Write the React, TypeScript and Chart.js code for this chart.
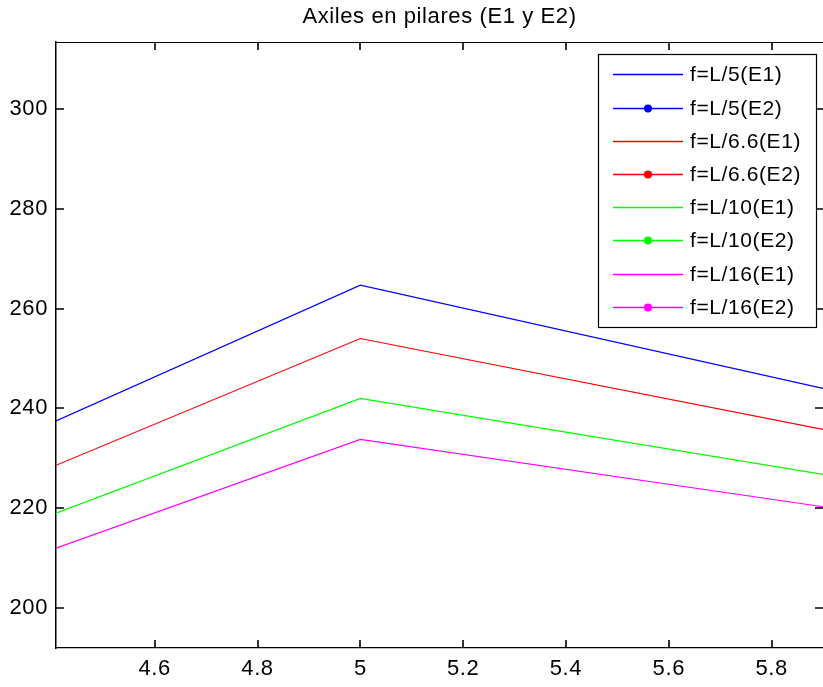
import React, { useEffect, useRef } from "react";
import { Chart, registerables } from "chart.js";

Chart.register(...registerables);

const titleText = "Axiles en pilares (E1 y E2)";
const xValues = [4.408, 5, 5.9];
const seriesLabels = [
  "f=L/5(E1)",
  "f=L/5(E2)",
  "f=L/6.6(E1)",
  "f=L/6.6(E2)",
  "f=L/10(E1)",
  "f=L/10(E2)",
  "f=L/16(E1)",
  "f=L/16(E2)",
];
const seriesColors = [
  "#0000ff",
  "#0000ff",
  "#ff0000",
  "#ff0000",
  "#00ff00",
  "#00ff00",
  "#ff00ff",
  "#ff00ff",
];
const withMarker = [false, true, false, true, false, true, false, true];
const l5E1 = [237.5, 264.7, 244.0];
const l5E2: number[] = [];
const l66E1 = [228.6, 254.0, 235.8];
const l66E2: number[] = [];
const l10E1 = [219.0, 242.0, 226.8];
const l10E2: number[] = [];
const l16E1 = [212.0, 233.8, 220.3];
const l16E2: number[] = [];
const seriesValues = [l5E1, l5E2, l66E1, l66E2, l10E1, l10E2, l16E1, l16E2];

const xMin = 4.408;
const xMax = 5.9;
const yMin = 192;
const yMax = 313.4;
const xStep = 0.2;
const yStep = 20;

const FONT = "'Liberation Sans', Arial, Helvetica, sans-serif";

const spacing = {
  id: "spacing",
  beforeDraw(chart: any) {
    (chart.ctx as any).letterSpacing = "0.6px";
  },
};

const insideTicks = {
  id: "insideTicks",
  afterDraw(chart: any) {
    const { ctx, chartArea } = chart;
    const { left, right, top, bottom } = chartArea;
    const xs = chart.scales.x;
    const ys = chart.scales.y;
    const len = 8;
    ctx.save();
    ctx.strokeStyle = "#000";
    ctx.lineWidth = 1.2;
    ctx.beginPath();
    ctx.moveTo(left, top + 0.5);
    ctx.lineTo(right, top + 0.5);
    ctx.stroke();
    ctx.lineWidth = 1.6;
    const xt = xs.getTicks();
    const yt = ys.getTicks();
    xt.forEach((t: any) => {
      const px = Math.round(xs.getPixelForValue(t.value));
      ctx.beginPath();
      ctx.moveTo(px, bottom);
      ctx.lineTo(px, bottom - len);
      ctx.moveTo(px, top);
      ctx.lineTo(px, top + len);
      ctx.stroke();
    });
    yt.forEach((t: any) => {
      const py = Math.round(ys.getPixelForValue(t.value));
      ctx.beginPath();
      ctx.moveTo(left, py);
      ctx.lineTo(left + len, py);
      ctx.moveTo(right, py);
      ctx.lineTo(right - len, py);
      ctx.stroke();
    });
    ctx.restore();
  },
};

const boxLegend = {
  id: "boxLegend",
  afterDraw(chart: any) {
    const { ctx, chartArea } = chart;
    const boxRight = chartArea.right - 7;
    const boxLeft = boxRight - 218;
    const boxTop = chartArea.top + 12;
    const boxH = 273;
    const rowH = 33.2;
    const firstRow = boxTop + 20.3;
    ctx.save();
    ctx.fillStyle = "#fff";
    ctx.fillRect(boxLeft, boxTop, boxRight - boxLeft, boxH);
    ctx.strokeStyle = "#000";
    ctx.lineWidth = 1.2;
    ctx.strokeRect(boxLeft + 0.5, boxTop + 0.5, boxRight - boxLeft, boxH);
    ctx.font = `21px ${FONT}`;
    ctx.textBaseline = "middle";
    ctx.textAlign = "left";
    chart.data.datasets.forEach((ds: any, i: number) => {
      const y = Math.round(firstRow + i * rowH) + 0.5;
      ctx.strokeStyle = ds.borderColor;
      ctx.fillStyle = ds.borderColor;
      ctx.lineWidth = 1.4;
      ctx.beginPath();
      ctx.moveTo(boxLeft + 15, y);
      ctx.lineTo(boxLeft + 85, y);
      ctx.stroke();
      if (withMarker[i]) {
        ctx.beginPath();
        ctx.arc(boxLeft + 50, y, 4, 0, Math.PI * 2);
        ctx.fill();
      }
      ctx.fillStyle = "#000";
      ctx.fillText(ds.label, boxLeft + 92, y + 1);
    });
    ctx.restore();
  },
};

export default function App() {
  const ref = useRef<HTMLCanvasElement | null>(null);
  useEffect(() => {
    document.body.style.margin = "0";
    if (!ref.current) return;
    const datasets = seriesLabels.map((label, i) => ({
      label,
      data: seriesValues[i].map((v, j) => ({ x: xValues[j], y: v })),
      borderColor: seriesColors[i],
      backgroundColor: seriesColors[i],
      borderWidth: 1.2,
      pointRadius: withMarker[i] ? 4 : 0,
      pointStyle: "circle",
      tension: 0,
    }));
    const chart = new Chart(ref.current, {
      type: "line",
      data: { datasets },
      options: {
        animation: false,
        responsive: false,
        layout: { padding: { left: 0, right: 0, top: 0, bottom: 0 } },
        plugins: {
          legend: { display: false },
          tooltip: { enabled: false },
          title: {
            display: true,
            text: titleText,
            fullSize: false,
            color: "#000",
            font: { family: FONT, size: 22, weight: "normal" },
            padding: { top: 4, bottom: 11.6 },
          },
        },
        scales: {
          x: {
            type: "linear",
            min: xMin,
            max: xMax,
            grid: { display: false, drawTicks: false },
            border: { display: true, color: "#000", width: 1.2 },
            ticks: {
              stepSize: xStep,
              includeBounds: false,
              autoSkip: false,
              maxRotation: 0,
              padding: 8,
              color: "#000",
              font: { family: FONT, size: 22 },
              callback: (v: any) => String(Math.round(Number(v) * 10) / 10),
            },
            afterFit: (s: any) => {
              s.height = 39;
            },
          },
          y: {
            type: "linear",
            min: yMin,
            max: yMax,
            grid: { display: false, drawTicks: false },
            border: { display: true, color: "#000", width: 1.5 },
            ticks: {
              stepSize: yStep,
              includeBounds: false,
              autoSkip: false,
              padding: 8,
              color: "#000",
              font: { family: FONT, size: 22 },
              callback: (v: any) => String(Math.round(Number(v))),
            },
            afterFit: (s: any) => {
              s.width = 56;
            },
          },
        },
      },
      plugins: [spacing, insideTicks, boxLegend],
    });
    return () => chart.destroy();
  }, []);
  return (
    <div style={{ width: 823, height: 687 }}>
      <canvas ref={ref} width={823} height={687} style={{ display: "block" }} />
    </div>
  );
}
